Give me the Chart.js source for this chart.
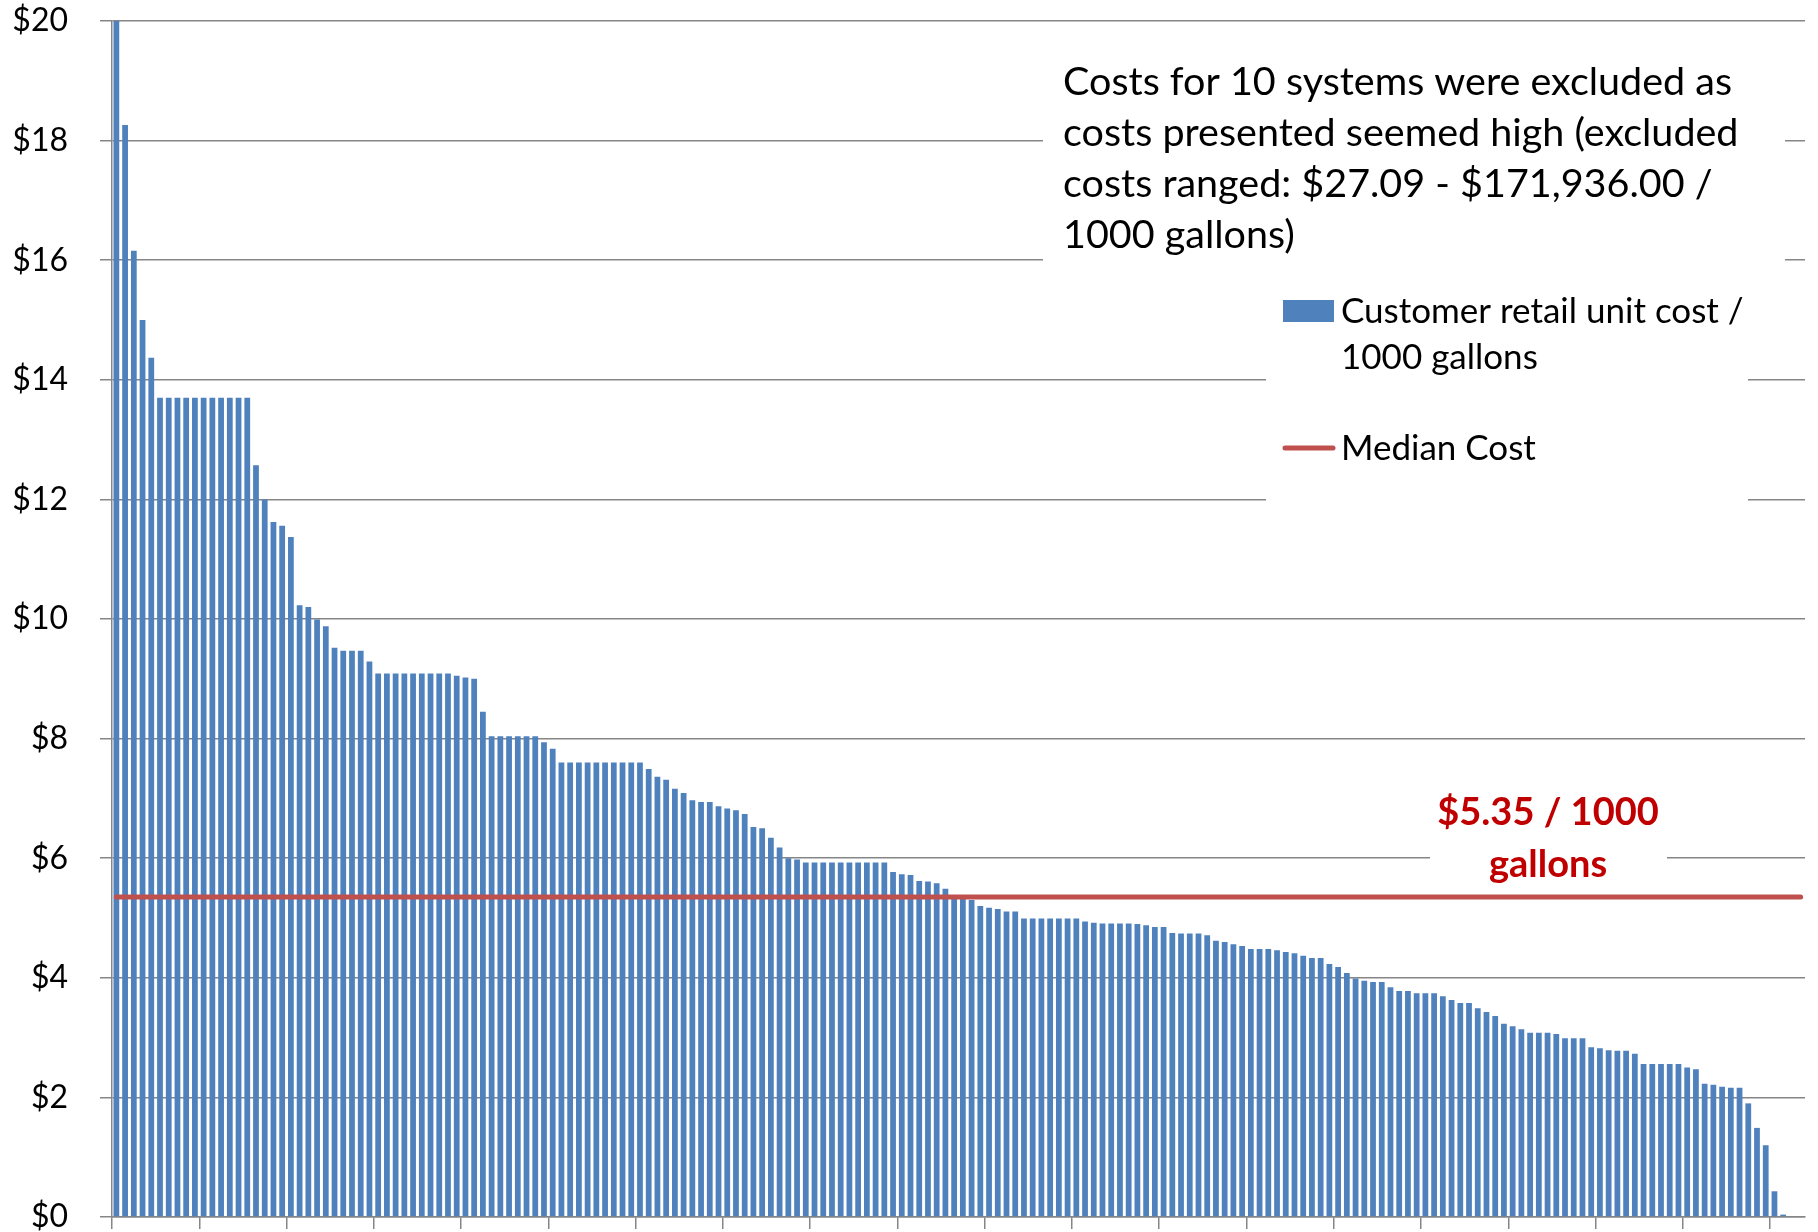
<!DOCTYPE html>
<html>
<head>
<meta charset="utf-8">
<script src="https://cdn.jsdelivr.net/npm/chart.js@4.4.1/dist/chart.umd.min.js"></script>
<style>
  html, body { margin: 0; padding: 0; background: #fff; }
  #wrap { width: 1818px; height: 1232px; }
</style>
</head>
<body>
<div id="wrap"><canvas id="costChart" width="1818" height="1232"></canvas></div>
<script>
// retail unit cost per 1000 gallons, one bar per system, sorted high to low
const costs = [
  21.00, 18.26, 16.16, 15.00, 14.37,
  13.70, 13.70, 13.70, 13.70, 13.70, 13.70, 13.70, 13.70, 13.70, 13.70, 13.70,
  12.57, 12.00, 11.62, 11.56, 11.37, 10.23, 10.20, 9.99, 9.88, 9.52,
  9.47, 9.47, 9.47, 9.29,
  9.09, 9.09, 9.09, 9.09, 9.09, 9.09, 9.09, 9.09, 9.09,
  9.05, 9.02, 9.00, 8.45,
  8.04, 8.04, 8.04, 8.04, 8.04, 8.04,
  7.94, 7.83,
  7.60, 7.60, 7.60, 7.60, 7.60, 7.60, 7.60, 7.60, 7.60, 7.60,
  7.49, 7.36, 7.31, 7.16, 7.09, 6.97, 6.94, 6.94, 6.87, 6.83,
  6.80, 6.74, 6.52, 6.50, 6.34, 6.18, 6.00, 5.98,
  5.93, 5.93, 5.93, 5.93, 5.93, 5.93, 5.93, 5.93, 5.93, 5.93,
  5.77, 5.73, 5.72, 5.62, 5.61, 5.58, 5.49, 5.37, 5.35, 5.30,
  5.20, 5.17, 5.15, 5.11, 5.11,
  4.99, 4.99, 4.99, 4.99, 4.99, 4.99, 4.99,
  4.94, 4.92, 4.91, 4.91, 4.91, 4.91, 4.90, 4.88, 4.85, 4.85,
  4.75, 4.74, 4.74, 4.74, 4.71, 4.62, 4.60, 4.56, 4.53,
  4.48, 4.48, 4.48, 4.46, 4.43, 4.41, 4.37, 4.33, 4.33, 4.23,
  4.18, 4.08, 3.99, 3.95, 3.93, 3.93, 3.84, 3.78, 3.78, 3.74,
  3.74, 3.74, 3.69, 3.63, 3.58, 3.58, 3.49, 3.43, 3.36, 3.23,
  3.19, 3.14, 3.08, 3.08, 3.08, 3.06, 2.99, 2.99, 2.99, 2.84,
  2.82, 2.79, 2.78, 2.78, 2.73, 2.56, 2.56, 2.56, 2.56, 2.56,
  2.50, 2.47, 2.23, 2.21, 2.18, 2.16, 2.16, 1.90, 1.49, 1.20,
  0.43, 0.04
];

// the axis has two empty slots after the last system
const slotCount = 194;
const systemLabels = Array.from({ length: slotCount }, (_, i) => String(i + 1));

const medianCost = 5.35;
const yTicks = [0, 2, 4, 6, 8, 10, 12, 14, 16, 18, 20];

const noteLines = [
  'Costs for 10 systems were excluded as',
  'costs presented seemed high (excluded',
  'costs ranged: $27.09 - $171,936.00 /',
  '1000 gallons)'
];

const BAR_COLOR = '#4F81BD';
const LINE_COLOR = '#C0504D';
const GRID_COLOR = '#868686';
const FONT = 'Lato, "Open Sans", sans-serif';

function wrapText(ctx, text, maxWidth) {
  const words = text.split(' ');
  const lines = [];
  let line = '';
  words.forEach(w => {
    const test = line ? line + ' ' + w : w;
    if (ctx.measureText(test).width > maxWidth && line) {
      lines.push(line);
      line = w;
    } else {
      line = test;
    }
  });
  if (line) lines.push(line);
  return lines;
}

const overlayPlugin = {
  id: 'overlay',
  afterDraw(chart) {
    const ctx = chart.ctx;
    const y = chart.scales.y;
    ctx.save();

    // note text box
    ctx.fillStyle = '#fff';
    ctx.fillRect(1043, 46, 742, 222);
    ctx.fillStyle = '#000';
    ctx.font = '39.5px ' + FONT;
    ctx.textAlign = 'left';
    ctx.textBaseline = 'middle';
    noteLines.forEach((t, i) => ctx.fillText(t, 1063, 82 + i * 51));

    // legend
    ctx.fillStyle = '#fff';
    ctx.fillRect(1266, 282, 482, 228);
    const [bars, median] = chart.data.datasets;
    ctx.fillStyle = bars.backgroundColor;
    ctx.fillRect(1283, 300, 51, 22);
    ctx.fillStyle = '#000';
    ctx.font = '35px ' + FONT;
    wrapText(ctx, bars.label, 430).forEach((t, i) => ctx.fillText(t, 1341, 312 + i * 46));

    ctx.strokeStyle = median.borderColor;
    ctx.lineWidth = 5;
    ctx.lineCap = 'round';
    ctx.beginPath();
    ctx.moveTo(1285, 448);
    ctx.lineTo(1333, 448);
    ctx.stroke();
    ctx.fillText(median.label, 1341, 449);

    // median value label
    const yMed = y.getPixelForValue(medianCost);
    ctx.fillStyle = '#fff';
    ctx.fillRect(1430, yMed - 122, 237, 115);
    ctx.fillStyle = '#C00000';
    ctx.font = 'bold 38px ' + FONT;
    ctx.textAlign = 'center';
    ctx.fillText('$' + medianCost.toFixed(2) + ' / 1000', 1548, yMed - 84);
    ctx.fillText('gallons', 1548, yMed - 32);

    ctx.restore();
  }
};

new Chart(document.getElementById('costChart'), {
  data: {
    labels: systemLabels,
    datasets: [
      {
        type: 'bar',
        label: 'Customer retail unit cost / 1000 gallons',
        data: costs,
        backgroundColor: BAR_COLOR,
        borderWidth: 0,
        barPercentage: 0.66,
        categoryPercentage: 1.0,
        order: 1
      },
      {
        type: 'line',
        label: 'Median Cost',
        data: [
          { x: systemLabels[0], y: medianCost },
          { x: systemLabels[slotCount - 1], y: medianCost }
        ],
        borderColor: LINE_COLOR,
        borderWidth: 5,
        borderCapStyle: 'round',
        pointRadius: 0,
        fill: false,
        order: 0
      }
    ]
  },
  options: {
    responsive: false,
    animation: false,
    layout: { padding: { top: 21, right: 13, bottom: 3, left: 0 } },
    scales: {
      x: {
        offset: true,
        ticks: { display: false, autoSkip: false },
        grid: {
          offset: true,
          drawOnChartArea: false,
          tickLength: 12,
          lineWidth: 1.5,
          color: (c) => (c.index % 10 === 0 ? GRID_COLOR : 'rgba(0,0,0,0)')
        },
        border: { color: GRID_COLOR, width: 1.5 }
      },
      y: {
        min: 0,
        max: 20,
        afterBuildTicks: (scale) => { scale.ticks = yTicks.map(v => ({ value: v })); },
        afterFit: (scale) => {
          scale.width = 112;
          scale.paddingTop = 0;
          scale.paddingBottom = 0;
        },
        ticks: {
          padding: 32,
          color: '#000',
          font: { family: FONT, size: 32 },
          callback: (v) => '$' + v
        },
        grid: { color: GRID_COLOR, lineWidth: 1.5, tickLength: 12 },
        border: { color: GRID_COLOR, width: 1.5 }
      }
    },
    plugins: {
      legend: { display: false },
      tooltip: { enabled: false }
    }
  },
  plugins: [overlayPlugin]
});
</script>
</body>
</html>
